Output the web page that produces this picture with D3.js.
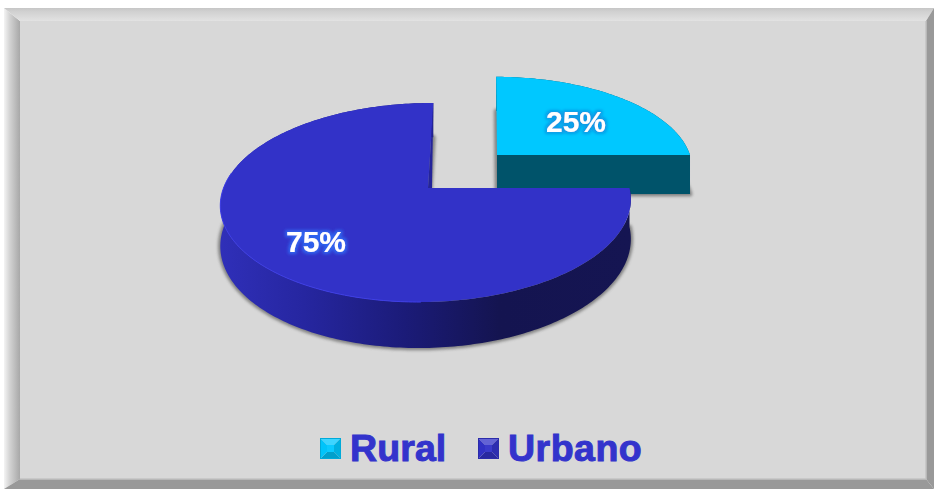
<!DOCTYPE html>
<html><head><meta charset="utf-8">
<script src="https://cdn.jsdelivr.net/npm/d3@7"></script>
<style>html,body{margin:0;padding:0;background:#fff}svg{display:block}</style>
</head><body><svg id="c" width="934" height="489"></svg>
<script>
const categories = ["Rural", "Urbano"];
const values = [25, 75];
const faceColors = ["#00c8ff", "#3232c8"];
const labelGlow = ["#0a9ce6", "#2f62ee"];

const svg = d3.select("#c");
const defs = svg.append("defs");
const line = d3.line();

function grad(id, stops, x1, x2, y1, y2, user) {
  const g = defs.append("linearGradient").attr("id", id)
    .attr("x1", x1).attr("x2", x2).attr("y1", y1).attr("y2", y2);
  if (user) g.attr("gradientUnits", "userSpaceOnUse");
  stops.forEach(s => g.append("stop").attr("offset", s[0]).attr("stop-color", s[1]));
}
grad("gLeft", [[0, "#f4f4f4"], [0.35, "#d4d4d4"], [1, "#a8a8a8"]], 0, 1, 0, 0);
grad("gTop", [[0, "#c6c6c6"], [0.25, "#d0d0d0"], [1, "#e2e2e2"]], 0, 0, 0, 1);
grad("gWallU", [[0, "#2f2fb8"], [0.2, "#2626a0"], [0.45, "#1b1b78"], [0.68, "#141450"], [1, "#151552"]], 222, 630, 0, 0, true);
grad("gWallR", [[0, "#00536a"], [1, "#00536a"]], 0, 1, 0, 0);

defs.append("filter").attr("id", "blur").attr("x", "-10%").attr("y", "-10%").attr("width", "120%").attr("height", "120%")
  .append("feGaussianBlur").attr("stdDeviation", 1.8);

labelGlow.forEach((c, i) => {
  const f = defs.append("filter").attr("id", "glow" + i).attr("x", "-30%").attr("y", "-30%").attr("width", "160%").attr("height", "160%");
  f.append("feMorphology").attr("in", "SourceAlpha").attr("operator", "dilate").attr("radius", 2).attr("result", "d");
  f.append("feGaussianBlur").attr("in", "d").attr("stdDeviation", 1.8).attr("result", "b");
  f.append("feFlood").attr("flood-color", c);
  f.append("feComposite").attr("in2", "b").attr("operator", "in").attr("result", "g");
  const m = f.append("feMerge");
  m.append("feMergeNode").attr("in", "g");
  m.append("feMergeNode").attr("in", "SourceGraphic");
});

// Bevelled panel
const L = 20, T = 21, R = 926, B = 479;
svg.append("path").attr("d", line([[4, 8], [L, T], [L, B], [4, 489]])).attr("fill", "url(#gLeft)");
svg.append("path").attr("d", line([[4, 8], [934, 8], [R, T], [L, T]])).attr("fill", "url(#gTop)");
svg.append("path").attr("d", line([[934, 8], [934, 489], [R, B], [R, T]])).attr("fill", "#999999");
svg.append("path").attr("d", line([[4, 489], [934, 489], [R, B], [L, B]])).attr("fill", "#999999");
svg.append("rect").attr("x", L).attr("y", T).attr("width", R - L).attr("height", B - T)
  .attr("fill", "#d8d8d8");
svg.append("path").attr("d", line([[L, B], [R, B], [R, T]])).attr("fill", "none").attr("stroke", "#c2c2c2").attr("stroke-width", 1.5);

// Perspective pie
const radius = 204, persp = 6.86 * radius, tilt = 97.4 / radius, wallH = 39.3, yaw = 0.05;
const sliceView = [
  { vx: 497, vy: 155, sx: 0.953, sy: 0.92, shear: -0.005, wall: "url(#gWallR)" },
  { vx: 428, vy: 188, sx: 0.995, sy: 1, shear: 0.03, wall: "url(#gWallU)" }
];
function project(v, a, r, drop) {
  const X = r * Math.sin(a), Y = r * Math.cos(a);
  const w = 1 + (Y + yaw * X) / persp;
  return [v.vx + v.sx * (X + v.shear * Y) / w, v.vy - v.sy * tilt * Y / w + (drop ? wallH / w : 0)];
}
const arcs = d3.pie().sort(null).startAngle(0).endAngle(2 * Math.PI)(values);
const step = Math.PI / 180;
function arcPts(v, a0, a1, drop) {
  const pts = [], n = Math.ceil(Math.abs(a1 - a0) / step);
  for (let i = 0; i <= n; i++) pts.push(project(v, a0 + (a1 - a0) * i / n, radius, drop));
  return pts;
}
function closed(p) { return line(p) + "Z"; }

arcs.forEach((d, i) => {
  const v = sliceView[i];
  const g = svg.append("g").attr("class", "slice");
  const top = arcPts(v, d.startAngle, d.endAngle, false);
  const bot = arcPts(v, d.startAngle, d.endAngle, true);
  const c0 = project(v, 0, 0, false), c1 = project(v, 0, 0, true);
  // soft shadow of the base
  g.append("path").attr("d", closed([c1, ...bot]))
    .attr("fill", "#555").attr("stroke", "#555").attr("stroke-width", 4.5)
    .attr("stroke-linejoin", "round").attr("opacity", 0.65).attr("filter", "url(#blur)");
  // side walls
  g.append("path").attr("d", closed([...top, ...bot.slice().reverse()])).attr("fill", v.wall);
  if (i === 0) {
    const e = top[top.length - 1], f = bot[bot.length - 1];
    g.append("path").attr("d", closed([c0, e, f, c1])).attr("fill", v.wall);
  } else {
    // thin inner cut wall beside the slice's closing edge
    const e = top[top.length - 1];
    g.append("path").attr("d", closed([e, [c0[0] + 4, c0[1]], c0])).attr("fill", "#24249a");
  }
  // top face
  g.append("path").attr("d", closed([c0, ...top])).attr("fill", faceColors[i]);
  if (i === 1) {
    g.append("path").attr("d", line(arcPts(v, Math.PI, 1.55 * Math.PI, false)))
      .attr("fill", "none").attr("stroke", "#3e3ee8").attr("stroke-width", 1);
  }
});

// Percentage labels
const labelAt = [[576, 121], [316, 241]];
arcs.forEach((d, i) => {
  svg.append("text").attr("x", labelAt[i][0]).attr("y", labelAt[i][1])
    .attr("dy", "0.36em").attr("text-anchor", "middle")
    .attr("font-family", "'Liberation Sans',Arial,sans-serif").attr("font-weight", "bold").attr("font-size", 30)
    .attr("fill", "#fff").attr("filter", "url(#glow" + i + ")")
    .text(values[i] + "%");
});

// Legend
const legendX = [[320, 350], [478, 508]];
function shade(c, k) { return k > 0 ? d3.interpolateRgb(c, "#fff")(k) : d3.interpolateRgb(c, "#000")(-k); }
categories.forEach((name, i) => {
  const g = svg.append("g").attr("class", "legend");
  const x = legendX[i][0], y = 438, s = 21, ins = 7;
  const base = faceColors[i];
  const a = [x, y], b = [x + s, y], c = [x + s, y + s], e = [x, y + s];
  const A = [x + ins, y + ins], B2 = [x + s - ins, y + ins], C = [x + s - ins, y + s - ins], E = [x + ins, y + s - ins];
  [[[a, b, B2, A], 0.24], [[b, c, C, B2], -0.12], [[c, e, E, C], -0.2], [[e, a, A, E], -0.02], [[A, B2, C, E], 0.04]]
    .forEach(q => g.append("path").attr("d", closed(q[0])).attr("fill", shade(base, q[1])));
  g.append("rect").attr("x", x + 0.5).attr("y", y + 0.5).attr("width", s - 1).attr("height", s - 1)
    .attr("fill", "none").attr("stroke", shade(base, -0.15)).attr("stroke-width", 1);
  g.append("text").attr("x", legendX[i][1]).attr("y", 461)
    .attr("font-family", "'Liberation Sans',Arial,sans-serif").attr("font-weight", "bold").attr("font-size", 37.5)
    .attr("letter-spacing", i === 0 ? 0.1 : 0.5)
    .attr("fill", "#3333cc").attr("stroke", "#3333cc").attr("stroke-width", 1)
    .text(name);
});
</script></body></html>
